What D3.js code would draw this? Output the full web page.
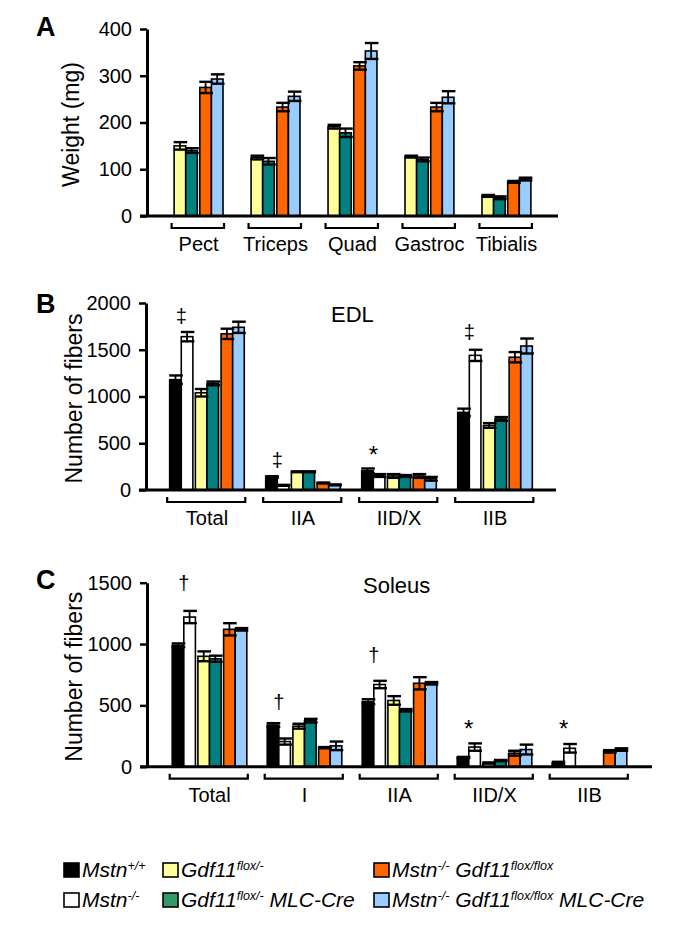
<!DOCTYPE html>
<html><head><meta charset="utf-8">
<script src="https://cdn.jsdelivr.net/npm/d3@7"></script>
<style>
body{margin:0;background:#fff}
svg{display:block}
text{font-family:"Liberation Sans",Arial,Helvetica,sans-serif;fill:#000}
</style>
</head><body>
<svg id="chart" width="685" height="935"></svg>
<script>
// ---------- data ----------
const seriesColors = ["#000000", "#ffffff", "#ffff99", "#008080", "#ff6600", "#99ccff"];
const legendColors = ["#000000", "#ffffff", "#ffff99", "#339966", "#ff6600", "#99ccff"];

// Panel A: muscle weights (series: Gdf11 flox/-, +MLC-Cre, Mstn-/- Gdf11 flox/flox, +MLC-Cre)
const weightSeries = [2, 3, 4, 5];
const weightMuscles = ["Pect", "Triceps", "Quad", "Gastroc", "Tibialis"];
const weightTicks = [0, 100, 200, 300, 400];
const weightMeans = [
  [150, 140, 275, 293],
  [125, 117, 233, 256],
  [191, 178, 321, 353],
  [127, 121, 233, 254],
  [43, 39, 73, 79]
];
const weightErrors = [
  [8, 5, 12, 10],
  [4, 7, 9, 10],
  [4, 9, 8, 17],
  [2, 4, 9, 13],
  [2, 3, 2, 3]
];

// Panel B: EDL fiber numbers (all 6 series)
const edlTypes = ["Total", "IIA", "IID/X", "IIB"];
const edlTicks = [0, 500, 1000, 1500, 2000];
const edlMeans = [
  [1180, 1640, 1040, 1140, 1670, 1740],
  [140, 50, 195, 195, 75, 55],
  [205, 155, 150, 150, 150, 120],
  [830, 1440, 690, 760, 1420, 1540]
];
const edlErrors = [
  [45, 50, 40, 20, 55, 60],
  [8, 5, 5, 5, 5, 5],
  [25, 15, 20, 10, 20, 20],
  [40, 60, 25, 20, 55, 80]
];
const edlMarks = ["\u2021", "\u2021", "*", "\u2021"];
const edlMarkLevels = [1865, 320, 375, 1690];

// Panel C: Soleus fiber numbers
const soleusTypes = ["Total", "I", "IIA", "IID/X", "IIB"];
const soleusTicks = [0, 500, 1000, 1500];
const soleusMeans = [
  [990, 1220, 900, 880, 1120, 1120],
  [340, 205, 330, 375, 155, 170],
  [530, 670, 540, 460, 680, 680],
  [75, 160, 30, 50, 110, 140],
  [30, 150, 0, 0, 125, 140]
];
const soleusErrors = [
  [15, 50, 40, 25, 50, 10],
  [15, 25, 20, 15, 5, 35],
  [20, 30, 35, 10, 50, 10],
  [5, 30, 5, 5, 20, 40],
  [10, 35, 0, 0, 10, 10]
];
const soleusMarks = ["\u2020", "\u2020", "\u2020", "*", "*"];
const soleusMarkLevels = [1497, 530, 910, 315, 315];

// Legend entries: list of [main, superscript]
const legendItems = [
  [["Mstn", "+/+"]],
  [["Mstn", "-/-"]],
  [["Gdf11", "flox/-"]],
  [["Gdf11", "flox/-"], [" MLC-Cre", ""]],
  [["Mstn", "-/-"], [" Gdf11", "flox/flox"]],
  [["Mstn", "-/-"], [" Gdf11", "flox/flox"], [" MLC-Cre", ""]]
];

// ---------- drawing ----------
const svg = d3.select("#chart");
const BW = 11.6, PAIR_GAP = 2.5;

function drawPanel(cfg) {
  const g = svg.append("g");
  const x = d3.scaleBand().domain(cfg.categories).range([cfg.x0, cfg.x1])
    .paddingInner(0).paddingOuter(cfg.pad);
  const y = d3.scaleLinear().domain([0, cfg.ticks[cfg.ticks.length - 1]]).range([cfg.y0, cfg.yTop]);
  const n = cfg.series.length;
  const groupW = n * BW + (n / 2 - 1) * PAIR_GAP;
  const off = i => -groupW / 2 + Math.floor(i / 2) * (2 * BW + PAIR_GAP) + (i % 2) * BW;

  // y axis
  const ax = g.append("g").attr("transform", `translate(${cfg.x0},0)`)
    .call(d3.axisLeft(y).tickValues(cfg.ticks).tickFormat(d3.format("d"))
      .tickSizeOuter(0).tickSizeInner(7).tickPadding(8));
  ax.attr("font-family", null).attr("font-size", null);
  ax.select(".domain").attr("stroke-width", 3).attr("stroke", "#000");
  ax.selectAll(".tick line").attr("stroke-width", 2.5).attr("stroke", "#000");
  ax.selectAll(".tick text").style("font-size", "20px").attr("fill", "#000");

  // bars
  cfg.categories.forEach((c, ci) => {
    const cx = x(c) + x.bandwidth() / 2;
    const grp = g.append("g");
    cfg.series.forEach((s, si) => {
      const v = cfg.means[ci][si];
      if (v <= 0) return;
      const bx = cx + off(si);
      grp.append("rect").attr("x", bx).attr("y", y(v)).attr("width", BW)
        .attr("height", y(0) - y(v)).attr("fill", seriesColors[s])
        .attr("stroke", "#000").attr("stroke-width", 1.6);
    });
    cfg.series.forEach((s, si) => {
      const v = cfg.means[ci][si], e = cfg.errors[ci][si];
      if (v <= 0) return;
      const mx = cx + off(si) + BW / 2;
      const hi = y(v + e), lo = y(Math.max(0, v - e));
      grp.append("line").attr("x1", mx).attr("x2", mx).attr("y1", hi).attr("y2", lo)
        .attr("stroke", "#000").attr("stroke-width", 1.8);
      [hi, lo].forEach(yy => grp.append("line").attr("x1", mx - BW / 2 - 0.5).attr("x2", mx + BW / 2 + 1.5)
        .attr("y1", yy).attr("y2", yy).attr("stroke", "#000").attr("stroke-width", 2.4));
    });
    // bracket
    const bx0 = cx - groupW / 2 - 2.5, bx1 = cx + groupW / 2 + 1;
    const by = y(0) + 12;
    g.append("path").attr("d", `M${bx0},${by - 5}V${by}H${bx1}V${by - 5}`)
      .attr("fill", "none").attr("stroke", "#000").attr("stroke-width", 2.2);
    g.append("text").attr("x", cx).attr("y", y(0) + 35).attr("text-anchor", "middle")
      .style("font-size", "20px").text(c);
    // significance marks
    if (cfg.marks) {
      g.append("text").attr("x", cx + off(0) + BW).attr("y", y(cfg.markLevels[ci]))
        .attr("text-anchor", "middle").attr("dominant-baseline", "central")
        .style("font-size", cfg.marks[ci] === "*" ? "24px" : "20px").text(cfg.marks[ci]);
    }
  });

  // x axis line
  g.append("line").attr("x1", cfg.x0 - 7).attr("x2", cfg.x1).attr("y1", y(0)).attr("y2", y(0))
    .attr("stroke", "#000").attr("stroke-width", 3);

  // y title
  g.append("text").attr("transform", `translate(${cfg.titleX},${(y(0) + y.range()[1]) / 2 + 2}) rotate(-90)`)
    .attr("text-anchor", "middle").style("font-size", "23px").text(cfg.title);
  // panel letter
  g.append("text").attr("x", 36).attr("y", cfg.letterY).style("font-size", "27px")
    .style("font-weight", "bold").text(cfg.letter);
  if (cfg.subtitle) {
    g.append("text").attr("x", cfg.subX).attr("y", cfg.subY).style("font-size", "22px").text(cfg.subtitle);
  }
}

drawPanel({
  categories: weightMuscles, series: weightSeries, means: weightMeans, errors: weightErrors,
  ticks: weightTicks, x0: 147, x1: 558, pad: 0.17, y0: 216, yTop: 29,
  title: "Weight (mg)", titleX: 79, letter: "A", letterY: 36
});
drawPanel({
  categories: edlTypes, series: [0, 1, 2, 3, 4, 5], means: edlMeans, errors: edlErrors,
  ticks: edlTicks, x0: 146, x1: 556, pad: 0.135, y0: 490, yTop: 303,
  title: "Number of fibers", titleX: 82, letter: "B", letterY: 313,
  subtitle: "EDL", subX: 331, subY: 322, marks: edlMarks, markLevels: edlMarkLevels
});
drawPanel({
  categories: soleusTypes, series: [0, 1, 2, 3, 4, 5], means: soleusMeans, errors: soleusErrors,
  ticks: soleusTicks, x0: 147, x1: 652, pad: 0.158, y0: 766.7, yTop: 582.7,
  title: "Number of fibers", titleX: 82, letter: "C", letterY: 589,
  subtitle: "Soleus", subX: 363, subY: 593, marks: soleusMarks, markLevels: soleusMarkLevels
});

// ---------- legend ----------
const legX = [64, 64, 163, 163, 374, 374];
const legY = [877, 907, 877, 907, 877, 907];
const lg = svg.append("g");
legendItems.forEach((parts, i) => {
  lg.append("rect").attr("x", legX[i]).attr("y", legY[i] - 14).attr("width", 15).attr("height", 14)
    .attr("fill", legendColors[i]).attr("stroke", "#000").attr("stroke-width", 1.6);
  const t = lg.append("text").attr("x", legX[i] + 18).attr("y", legY[i])
    .style("font-size", "21px").style("font-style", "italic").style("font-weight", "normal");
  let pending = 0;
  parts.forEach(([main, sup]) => {
    t.append("tspan").attr("dy", pending).text(main);
    pending = 0;
    if (sup) {
      t.append("tspan").text(sup).style("font-size", "12.5px").attr("dy", -7);
      pending = 7;
    }
  });
});
</script>
</body></html>
